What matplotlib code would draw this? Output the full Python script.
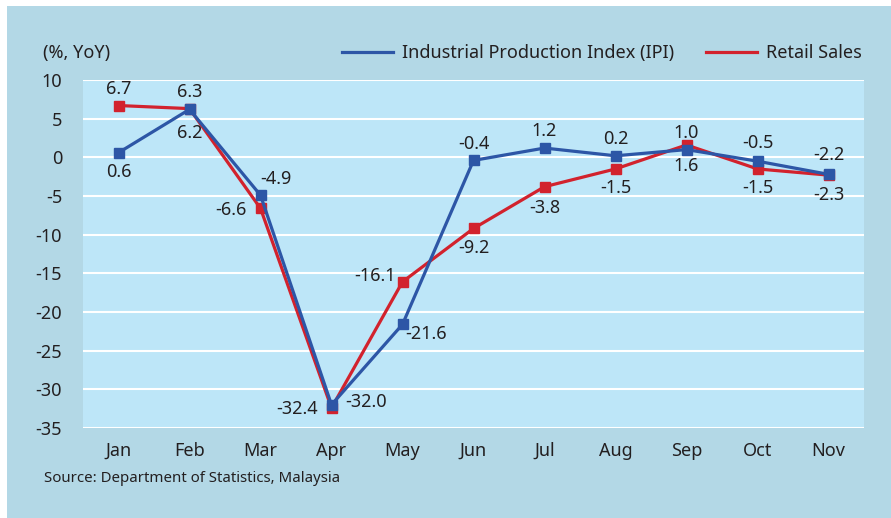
import matplotlib.pyplot as plt
from matplotlib.patches import Rectangle

plt.rcParams["font.family"] = ["Noto Sans", "DejaVu Sans"]
plt.rcParams["axes.unicode_minus"] = False

months = ["Jan", "Feb", "Mar", "Apr", "May", "Jun", "Jul", "Aug", "Sep", "Oct", "Nov"]
ipi = [0.6, 6.2, -4.9, -32.0, -21.6, -0.4, 1.2, 0.2, 1.0, -0.5, -2.2]
retail = [6.7, 6.3, -6.6, -32.4, -16.1, -9.2, -3.8, -1.5, 1.6, -1.5, -2.3]
y_ticks = [10, 5, 0, -5, -10, -15, -20, -25, -30, -35]

# label offsets (points) so numbers don't sit on the markers
ipi_off = [(0, -14), (0, -17), (11, 12), (25, 2), (17, -7), (0, 12),
           (0, 12), (0, 12), (0, 12), (0, 13), (0, 14)]
retail_off = [(0, 12), (0, 12), (-21, -1), (-25, -1), (-20, 4), (0, -14),
              (0, -15), (0, -14), (0, -15), (0, -14), (0, -14)]

BLUE = "#2d56a6"
RED = "#d2222d"
OUTER = "#b3d8e6"
INNER = "#bde6f8"
TXT = "#231f20"
FS = 13

fig = plt.figure(figsize=(8.91, 5.18), dpi=100)
fig.patch.set_facecolor("white")
fig.patches.append(Rectangle((7 / 891, 0), 1, 1 - 6 / 518, transform=fig.transFigure,
                             facecolor=OUTER, edgecolor="none", zorder=-10))

ax = fig.add_axes([83 / 891, 1 - 428 / 518, (864 - 83) / 891, (428 - 80) / 518])
ax.set_facecolor(INNER)
x = list(range(len(months)))

ax.plot(x, retail, color=RED, lw=2.3, marker="s", ms=7, label="Retail Sales", zorder=3)
ax.plot(x, ipi, color=BLUE, lw=2.3, marker="s", ms=7,
        label="Industrial Production Index (IPI)", zorder=4)

for xi, v, off in zip(x, ipi, ipi_off):
    ax.annotate(f"{v:.1f}", (xi, v), xytext=off, textcoords="offset points",
                ha="center", va="center", fontsize=FS, color=TXT, zorder=5)
for xi, v, off in zip(x, retail, retail_off):
    ax.annotate(f"{v:.1f}", (xi, v), xytext=off, textcoords="offset points",
                ha="center", va="center", fontsize=FS, color=TXT, zorder=5)

ax.set_ylim(-35, 10)
ax.set_xlim(-0.5, len(months) - 0.5)
ax.set_yticks(y_ticks)
ax.set_xticks(x)
ax.set_xticklabels(months)
ax.yaxis.grid(True, color="white", lw=1.5)
ax.set_axisbelow(True)
ax.tick_params(length=0, labelsize=FS, colors=TXT)
ax.tick_params(axis="x", pad=10)
ax.tick_params(axis="y", pad=15)
for s in ax.spines.values():
    s.set_visible(False)

fig.text(43 / 891, 1 - 53 / 518, "(%, YoY)", fontsize=FS, color=TXT, va="center")
fig.text(44 / 891, 1 - 478 / 518, "Source: Department of Statistics, Malaysia",
         fontsize=10.8, color=TXT, va="center")

handles, labels = ax.get_legend_handles_labels()
leg = fig.legend(handles[::-1], labels[::-1], loc="center right",
                 bbox_to_anchor=(878 / 891, 1 - 53 / 518), ncol=2, frameon=False,
                 fontsize=FS, handlelength=2.8, handletextpad=0.5,
                 columnspacing=1.8)
for h in leg.get_lines():
    h.set_marker("")
for t in leg.get_texts():
    t.set_color(TXT)

fig.savefig("out.png", dpi=100)
